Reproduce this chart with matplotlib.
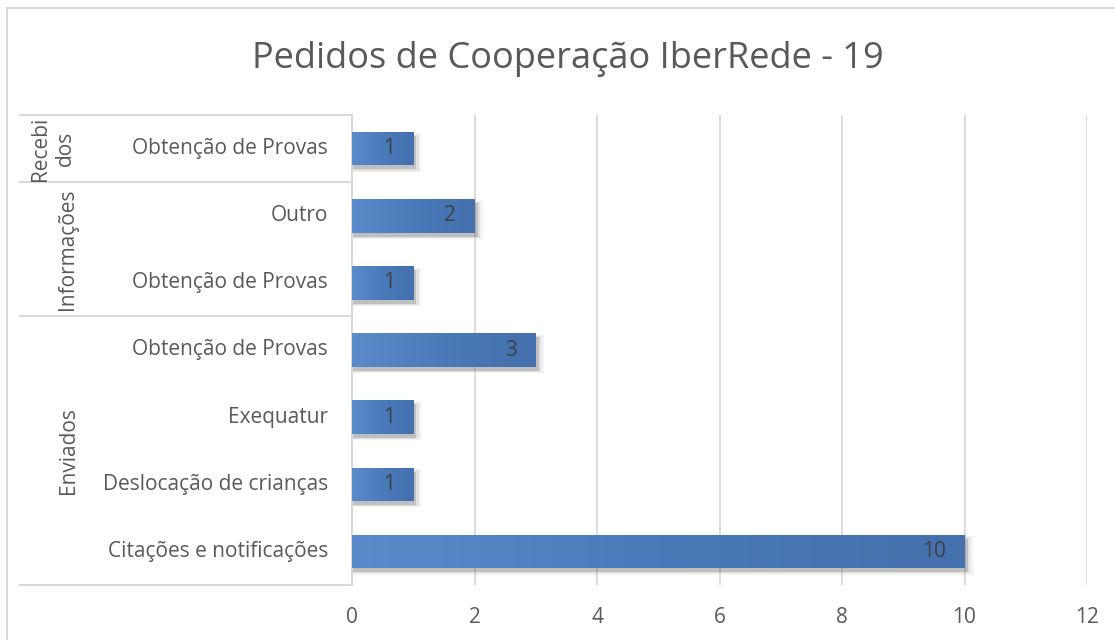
import matplotlib.pyplot as plt
from matplotlib.patches import Rectangle
from matplotlib.lines import Line2D
from matplotlib.colors import LinearSegmentedColormap
import numpy as np

# data, bottom row first
categories = ["Citações e notificações", "Deslocação de crianças", "Exequatur",
              "Obtenção de Provas", "Obtenção de Provas", "Outro", "Obtenção de Provas"]
values = [10, 1, 1, 3, 1, 2, 1]
groups = ["Enviados", "Informações", "Recebi\ndos"]
group_sizes = [4, 2, 1]
ticks = [0, 2, 4, 6, 8, 10, 12]

plt.rcParams['font.family'] = ['Open Sans', 'DejaVu Sans']

W, H = 1115, 640
fig = plt.figure(figsize=(W / 100, H / 100), dpi=100)
ax = fig.add_axes([352 / W, 1 - 585 / H, (1087 - 352) / W, (585 - 115) / H])

# chart frame
fig.add_artist(Line2D([7 / W, 7 / W], [0, 1 - 8 / H], transform=fig.transFigure,
                      color="#d9d9d9", lw=1.5))
fig.add_artist(Line2D([7 / W, 1], [1 - 8 / H, 1 - 8 / H], transform=fig.transFigure,
                      color="#d9d9d9", lw=1.5))

ax.set_xlim(0, 12)
ax.set_ylim(-0.5, len(values) - 0.5)
for s in ax.spines.values():
    s.set_visible(False)
ax.set_xticks(ticks)
ax.set_xticklabels([str(t) for t in ticks], fontsize=15, color="#595959")
ax.tick_params(axis="x", length=0, pad=16)
ax.set_yticks([])
ax.grid(axis="x", color="#d9d9d9", lw=1.3)
ax.set_axisbelow(True)

y = np.arange(len(values))
bh = 0.5
grad = np.linspace(0, 1, 256).reshape(1, -1)
cmap = LinearSegmentedColormap.from_list("b", ["#5b8bca", "#4a7ab9", "#4470ad"])
dx = 12 / 735 * 4
dy = 7 / 470 * 4
for yi, v in zip(y, values):
    # soft shadow
    for k, a in enumerate([0.08, 0.12, 0.25]):
        sp = (2 - k) * 0.6
        ax.add_patch(Rectangle((0 + dx * 0.3, yi - bh / 2 - dy - sp * dy * 0.5),
                               v + dx * (0.5 + sp), bh + sp * dy,
                               facecolor="#606060", alpha=a, lw=0, zorder=2))
    r = Rectangle((0, yi - bh / 2), v, bh, facecolor="none", lw=0, zorder=3)
    ax.add_patch(r)
    im = ax.imshow(grad, extent=(0, v, yi - bh / 2, yi + bh / 2), aspect="auto",
                   cmap=cmap, zorder=3)
    im.set_clip_path(r)
    ax.text(v - 0.3, yi, str(v), ha="right", va="center", fontsize=15,
            color="#404040", zorder=4)

ax.set_xlim(0, 12)
ax.set_ylim(-0.5, len(values) - 0.5)

# category labels
tr = ax.get_yaxis_transform()
for yi, c in zip(y, categories):
    ax.text(-24 / 735, yi, c, transform=tr, ha="right", va="center",
            fontsize=15, color="#595959")

# axis line and group separators
x0 = (20 - 352) / 735
ax.plot([0, 0], [-0.5, len(values) - 0.5], transform=tr, color="#d9d9d9",
        lw=1.5, clip_on=False)
start = -0.5
bounds = [start]
for g, n in zip(groups, group_sizes):
    end = start + n
    mid = (start + end) / 2
    xg = (68 - 352) / 735 if "\n" not in g else (53 - 352) / 735
    ax.text(xg, mid, g, transform=tr, rotation=90, ha="center", va="center",
            fontsize=15, color="#595959", linespacing=1.25)
    bounds.append(end)
    start = end
for b in bounds:
    ax.plot([x0, 0], [b, b], transform=tr, color="#d9d9d9", lw=1.5, clip_on=False)

fig.text(568 / W, 1 - 59 / H, "Pedidos de Cooperação IberRede - 19", ha="center",
         va="center", fontsize=26, color="#595959")

fig.savefig("out.png", dpi=100)
